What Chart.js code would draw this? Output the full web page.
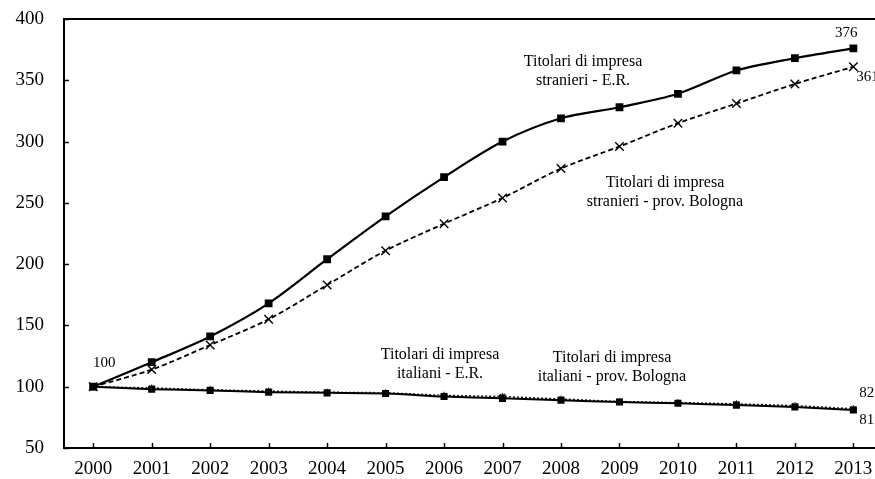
<!DOCTYPE html>
<html>
<head>
<meta charset="utf-8">
<script src="https://cdn.jsdelivr.net/npm/chart.js@4.4.1/dist/chart.umd.min.js"></script>
<style>
  html, body { margin: 0; padding: 0; background: #fff; overflow: hidden; }
  #wrap { width: 890px; height: 479px; }
</style>
</head>
<body>
<div id="wrap"><canvas id="chart" width="890" height="479"></canvas></div>
<script>
// index numbers, 2000 = 100
const years = ['2000', '2001', '2002', '2003', '2004', '2005', '2006',
               '2007', '2008', '2009', '2010', '2011', '2012', '2013'];
const stranieriER = [100, 120, 141, 168, 204, 239, 271, 300, 319, 328, 339, 358, 368, 376];
const stranieriBO = [100, 114, 134, 155, 183, 211, 233, 254, 278, 296, 315, 331, 347, 361];
const italianiER  = [100, 98, 97, 95.5, 95, 94.5, 92, 90.5, 89, 87.5, 86.5, 85, 83.5, 81];
const italianiBO  = [100, 99, 97.5, 96.5, 95.5, 95, 93, 92, 90, 88, 87, 86, 84.5, 82];
const yTicks = [50, 100, 150, 200, 250, 300, 350, 400];

const serif = '"Liberation Serif", "Times New Roman", serif';

// value labels: dataset index, point index, offset, alignment
const valueLabels = [
  { ds: 0, i: 0,  dx: 11, dy: -24, align: 'center' },
  { ds: 0, i: 13, dx: -7, dy: -15, align: 'center' },
  { ds: 1, i: 13, dx: 3,  dy: 10,  align: 'left' },
  { ds: 3, i: 13, dx: 6,  dy: -16, align: 'left' },
  { ds: 2, i: 13, dx: 6,  dy: 10,  align: 'left' }
];

// series captions written inside the plot
const captions = [
  { x: 583, y: 62,  lines: ['Titolari di impresa', 'stranieri - E.R.'] },
  { x: 665, y: 183, lines: ['Titolari di impresa', 'stranieri - prov. Bologna'] },
  { x: 440, y: 355, lines: ['Titolari di impresa', 'italiani - E.R.'] },
  { x: 612, y: 358, lines: ['Titolari di impresa', 'italiani - prov. Bologna'] }
];

// plot frame plus short inward tick marks
const frame = {
  id: 'frame',
  afterDraw(chart) {
    const { ctx, chartArea: a, scales } = chart;
    ctx.save();
    ctx.strokeStyle = '#000';
    ctx.lineWidth = 2;
    ctx.beginPath();
    ctx.moveTo(a.left, a.top);
    ctx.lineTo(a.right, a.top);
    ctx.lineTo(a.right, a.bottom);
    ctx.stroke();
    ctx.lineWidth = 1.5;
    ctx.beginPath();
    yTicks.forEach(v => {
      const y = Math.round(scales.y.getPixelForValue(v)) + 0.5;
      ctx.moveTo(a.left, y);
      ctx.lineTo(a.left + 5, y);
    });
    years.forEach((_, i) => {
      const x = Math.round(scales.x.getPixelForValue(i)) + 0.5;
      ctx.moveTo(x, a.bottom);
      ctx.lineTo(x, a.bottom - 5);
    });
    ctx.stroke();
    ctx.restore();
  }
};

const labels = {
  id: 'labels',
  afterDatasetsDraw(chart) {
    const { ctx } = chart;
    ctx.save();
    ctx.fillStyle = '#000';
    ctx.textBaseline = 'middle';
    ctx.font = '15px ' + serif;
    valueLabels.forEach(l => {
      const pt = chart.getDatasetMeta(l.ds).data[l.i];
      const v = chart.data.datasets[l.ds].data[l.i];
      ctx.textAlign = l.align;
      ctx.fillText(String(v), pt.x + l.dx, pt.y + l.dy);
    });
    ctx.font = '16px ' + serif;
    ctx.textAlign = 'center';
    captions.forEach(c => {
      c.lines.forEach((t, k) => ctx.fillText(t, c.x, c.y + k * 19));
    });
    ctx.restore();
  }
};

new Chart(document.getElementById('chart'), {
  type: 'line',
  data: {
    labels: years,
    datasets: [
      {
        label: 'Titolari di impresa stranieri - E.R.',
        data: stranieriER,
        borderColor: '#000', backgroundColor: '#000',
        borderWidth: 2.2, tension: 0.3,
        pointStyle: 'rect', pointRadius: 5.5, pointBorderWidth: 0
      },
      {
        label: 'Titolari di impresa stranieri - prov. Bologna',
        data: stranieriBO,
        borderColor: '#000', backgroundColor: '#000',
        borderWidth: 1.8, borderDash: [5, 3], tension: 0.3,
        pointStyle: 'crossRot', pointRadius: 6, pointBorderWidth: 1.4
      },
      {
        label: 'Titolari di impresa italiani - E.R.',
        data: italianiER,
        borderColor: '#000', backgroundColor: '#000',
        borderWidth: 2, tension: 0.3,
        pointStyle: 'rect', pointRadius: 5, pointBorderWidth: 0
      },
      {
        label: 'Titolari di impresa italiani - prov. Bologna',
        data: italianiBO,
        borderColor: '#222', backgroundColor: '#000',
        borderWidth: 1.5, borderDash: [2, 2], tension: 0.3,
        pointStyle: 'star', pointRadius: 3.5, pointBorderWidth: 1.2
      }
    ]
  },
  options: {
    responsive: false,
    animation: false,
    devicePixelRatio: 1,
    layout: { padding: { top: 19, right: 0, left: 0, bottom: 0 } },
    plugins: { legend: { display: false }, tooltip: { enabled: false } },
    scales: {
      x: {
        type: 'category',
        offset: true,
        grid: { display: false, offset: false, drawTicks: false },
        border: { color: '#000', width: 2 },
        ticks: {
          color: '#000', padding: 10, maxRotation: 0, autoSkip: false,
          font: { family: serif, size: 19 }
        },
        afterFit: s => { s.height = 31; s.paddingLeft = 0; s.paddingRight = 0; }
      },
      y: {
        min: 50, max: 400,
        grid: { display: false, drawTicks: false },
        border: { color: '#000', width: 2 },
        ticks: {
          stepSize: 50, color: '#000', padding: 20,
          font: { family: serif, size: 19 }
        },
        afterFit: s => { s.width = 64; s.paddingTop = 0; s.paddingBottom = 0; }
      }
    }
  },
  plugins: [frame, labels]
});
</script>
</body>
</html>
